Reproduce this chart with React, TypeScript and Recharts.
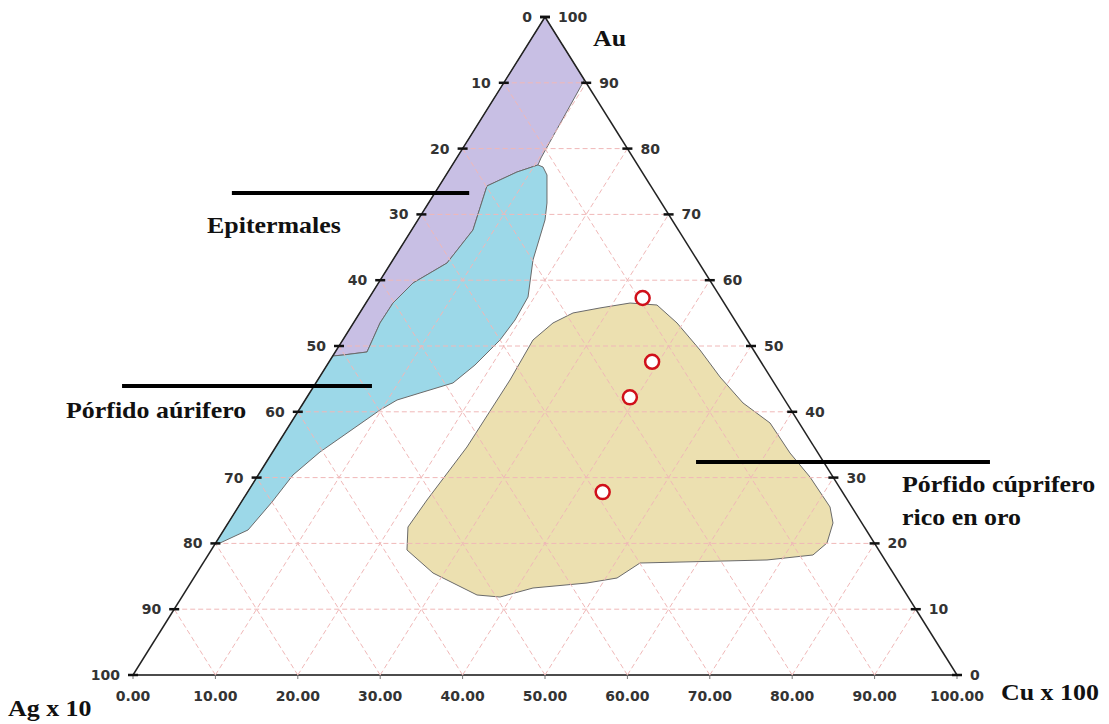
import React from 'react';
import { ScatterChart, Scatter, XAxis, YAxis, ReferenceLine } from 'recharts';

const W = 1109;
const H = 724;

// Gridline steps (percent)
const gridSteps = [10, 20, 30, 40, 50, 60, 70, 80, 90];
// Left edge labels (apex -> bottom-left)
const leftEdgeLabels = [0, 10, 20, 30, 40, 50, 60, 70, 80, 90, 100];
// Right edge labels (apex -> bottom-right), Au scale
const rightEdgeLabels = [100, 90, 80, 70, 60, 50, 40, 30, 20, 10, 0];
// Bottom axis ticks, Cu x 100
const baseTicks = [0, 10, 20, 30, 40, 50, 60, 70, 80, 90, 100];

// Sample compositions (percent): Au, Cu x 100
const sampleAu = [57.3, 47.6, 42.2, 27.8];
const sampleCu = [33.2, 39.2, 39.2, 43.1];

// Field outlines in diagram coordinates [x, y]
const epitermalesPoly: [number, number][] = [
  [50, 100], [54.78, 90.43], [49.51, 78.57], [49.15, 77.51], [46.6, 76.44], [42.96, 74.32],
  [41.26, 67.63], [38.11, 62.61], [33.98, 59.57], [31.55, 56.53], [29.98, 53.5], [28.4, 49.09],
  [25.49, 48.63], [24.24, 48.48],
];
const porfidoAuPoly: [number, number][] = [
  [49.15, 77.51], [49.76, 77.2], [50.24, 75.99], [50.24, 71.73], [50.0, 69.15], [48.54, 63.07],
  [47.94, 57.45], [46.36, 53.95], [44.54, 50.91], [41.5, 47.11], [38.83, 44.38], [34.83, 42.86],
  [32.04, 41.79], [29.98, 40.27], [22.69, 33.89], [19.42, 30.4], [16.87, 26.29], [13.96, 22.04],
  [10.56, 20.06], [10.03, 20.06], [24.24, 48.48], [25.49, 48.63], [28.4, 49.09], [29.98, 53.5],
  [31.55, 56.53], [33.98, 59.57], [38.11, 62.61], [41.26, 67.63], [42.96, 74.32], [46.6, 76.44],
];
const porfidoCuPoly: [number, number][] = [
  [50.97, 53.5], [53.4, 55.02], [56.67, 55.78], [60.32, 56.53], [63.59, 56.23], [66.02, 53.5],
  [68.81, 49.39], [71.24, 45.29], [74.03, 41.34], [77.31, 38.3], [79.73, 33.74], [82.16, 30.09],
  [84.59, 25.53], [84.95, 23.1], [84.22, 20.06], [82.52, 18.24], [76.94, 17.48], [61.53, 17.02],
  [58.74, 14.74], [55.1, 13.98], [48.54, 13.22], [44.54, 11.85], [41.75, 12.16], [36.41, 15.5],
  [33.25, 19.0], [33.37, 22.49], [35.68, 26.6], [40.53, 34.65], [45.75, 44.83], [48.54, 50.91],
];
const fieldFills = ['#c8bfe4', '#9cd8e8', '#ece0b0'];

// Leader lines next to the field names, diagram coordinates [x1, x2, y]
const leaderLines: [number, number, number][] = [
  [12.0, 40.8, 73.25],
  [-1.33, 29.0, 43.92],
  [68.33, 104.0, 32.37],
];

const fieldPolys = [epitermalesPoly, porfidoAuPoly, porfidoCuPoly];
const samples = sampleAu.map((au, i) => ({ x: sampleCu[i] + au / 2, y: au }));
const leftLabelData = leftEdgeLabels.map((k) => ({ x: 50 - k / 2, y: 100 - k, label: String(k) }));
const rightLabelData = rightEdgeLabels.map((v) => ({ x: 100 - v / 2, y: v, label: String(v) }));

// gridline segments: horizontal, parallel to left edge, parallel to right edge
const gridSegments = [
  ...gridSteps.map((c) => [{ x: c / 2, y: c }, { x: 100 - c / 2, y: c }]),
  ...gridSteps.map((c) => [{ x: c, y: 0 }, { x: 50 + c / 2, y: 100 - c }]),
  ...gridSteps.map((c) => [{ x: c, y: 0 }, { x: c / 2, y: c }]),
];

// one data list: field outlines first, then gridline endpoints (drawn in that order)
const backgroundData = [
  ...fieldPolys.flatMap((poly) => poly.map(([x, y]) => ({ x, y }))),
  ...gridSegments.flat(),
];

const GRID = '#f0b8b8';
const tickFont = { fontSize: 14, fontWeight: 'bold' as const, fontFamily: 'DejaVu Sans', fill: '#333' };

const renderBackground = (props: any) => {
  const pts = props.points || [];
  const out: React.ReactNode[] = [];
  let i = 0;
  fieldPolys.forEach((poly, k) => {
    const seg = pts.slice(i, i + poly.length);
    i += poly.length;
    const d = seg.map((p: any, j: number) => `${j ? 'L' : 'M'}${p.x},${p.y}`).join('') + 'Z';
    out.push(<path key={`f${k}`} d={d} fill={fieldFills[k]} stroke="#6a6a6a" strokeWidth={1} />);
  });
  for (; i + 1 < pts.length; i += 2) {
    out.push(
      <line
        key={`g${i}`}
        x1={pts[i].x}
        y1={pts[i].y}
        x2={pts[i + 1].x}
        y2={pts[i + 1].y}
        stroke={GRID}
        strokeDasharray="5 3"
        strokeWidth={1}
      />
    );
  }
  return <g>{out}</g>;
};

const Empty = () => <g />;

const LeftLabel = (p: any) => {
  const { cx, cy, payload } = p;
  return (
    <g>
      <line x1={cx - 5} x2={cx + 5} y1={cy} y2={cy} stroke="#111" strokeWidth={2.5} />
      <text x={cx - 13} y={cy} textAnchor="end" dominantBaseline="central" {...tickFont}>
        {payload.label}
      </text>
    </g>
  );
};

const RightLabel = (p: any) => {
  const { cx, cy, payload } = p;
  return (
    <g>
      <line x1={cx - 5} x2={cx + 5} y1={cy} y2={cy} stroke="#111" strokeWidth={2.5} />
      <text x={cx + 13} y={cy} textAnchor="start" dominantBaseline="central" {...tickFont}>
        {payload.label}
      </text>
    </g>
  );
};

const SampleDot = (p: any) => {
  const { cx, cy } = p;
  return <circle cx={cx} cy={cy} r={7} fill="#fff" stroke="#d0101a" strokeWidth={2.5} />;
};

const titleStyle = {
  fontFamily: '"Liberation Serif", "Times New Roman", serif',
  fontWeight: 'bold' as const,
  fontSize: 24,
  fill: '#111',
};

const Title = ({ x, y, children }: { x: number; y: number; children: React.ReactNode }) => (
  <text transform={`translate(${x},${y}) scale(1.08,1)`} {...titleStyle}>
    {children}
  </text>
);

export default function App() {
  return (
    <div style={{ position: 'absolute', left: 0, top: 0, width: W, height: H, background: '#fff' }}>
      <ScatterChart
        width={W}
        height={H}
        margin={{ top: 17, left: 133, right: 152, bottom: 19 }}
      >
        <XAxis
          type="number"
          dataKey="x"
          domain={[0, 100]}
          ticks={baseTicks}
          interval={0}
          tickFormatter={(v: number) => v.toFixed(2)}
          axisLine={{ stroke: '#111', strokeWidth: 1.5 }}
          tickLine={{ stroke: '#777' }}
          tickSize={4}
          tickMargin={12}
          tick={tickFont}
          height={30}
        />
        <YAxis type="number" dataKey="y" domain={[0, 100]} hide width={0} />

        <Scatter data={backgroundData} line={renderBackground} shape={Empty} isAnimationActive={false} />

        <ReferenceLine segment={[{ x: 0, y: 0 }, { x: 50, y: 100 }]} stroke="#222" strokeWidth={1.5} ifOverflow="visible" zIndex={700} />
        <ReferenceLine segment={[{ x: 100, y: 0 }, { x: 50, y: 100 }]} stroke="#222" strokeWidth={1.5} ifOverflow="visible" zIndex={700} />

        {leaderLines.map(([x1, x2, y], i) => (
          <ReferenceLine key={`l${i}`} segment={[{ x: x1, y }, { x: x2, y }]} stroke="#000" strokeWidth={4} ifOverflow="visible" zIndex={700} />
        ))}

        <Scatter data={leftLabelData} shape={LeftLabel} isAnimationActive={false} zIndex={800} />
        <Scatter data={rightLabelData} shape={RightLabel} isAnimationActive={false} zIndex={800} />
        <Scatter data={samples} shape={SampleDot} isAnimationActive={false} zIndex={800} />
      </ScatterChart>
      <svg width={W} height={H} style={{ position: 'absolute', left: 0, top: 0, pointerEvents: 'none' }}>
        <Title x={593} y={46}>Au</Title>
        <Title x={207} y={233}>Epitermales</Title>
        <Title x={66} y={418}>Pórfido aúrifero</Title>
        <Title x={902} y={492}>Pórfido cúprifero</Title>
        <Title x={902} y={525}>rico en oro</Title>
        <Title x={8} y={716}>Ag x 10</Title>
        <Title x={1001} y={700}>Cu x 100</Title>
      </svg>
    </div>
  );
}
